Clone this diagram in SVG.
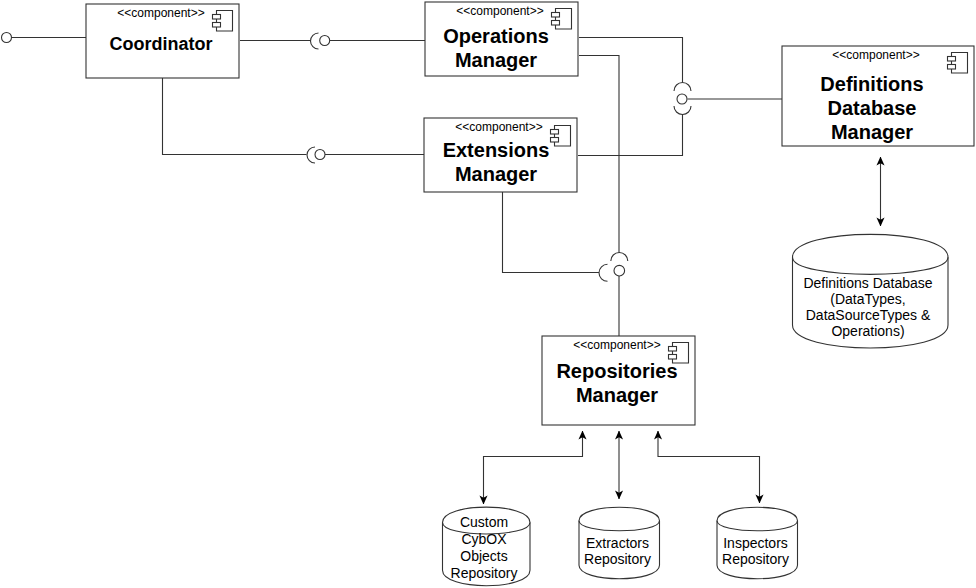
<svg xmlns="http://www.w3.org/2000/svg" width="976" height="588" viewBox="0 0 976 588">
<defs>
<style>
.b{fill:#fff;stroke:#333;stroke-width:1.1}
.l{fill:none;stroke:#333;stroke-width:1.1}
text{font-family:"Liberation Sans",Arial,sans-serif;fill:#000;text-anchor:middle}
.s{font-size:12px}
.t{font-size:20px;font-weight:bold}
.c{font-size:18px;font-weight:bold}
.d{font-size:14px}
</style>
<marker id="a" viewBox="0 0 8 8" refX="7.600" refY="4" markerWidth="9" markerHeight="9" orient="auto-start-reverse" markerUnits="userSpaceOnUse"><path d="M0 0.400L8 4L0 7.600L2 4Z" fill="#000"/></marker>
<g id="icon"><path class="b" d="M4.500 0.500H20.500V21H4.500Z"/><rect class="b" x="0.500" y="4.500" width="8" height="4.500"/><rect class="b" x="0.500" y="12.500" width="8" height="4.500"/></g>
</defs>
<rect width="976" height="588" fill="#fff"/>
<g id="connectors">
<path class="l" d="M11.500 37.500H86"/>
<path class="l" d="M240 40.500H310.500M330 40.500H425"/>
<path class="l" d="M162.500 78V154.500H306.500M325 154.500H424"/>
<path class="l" d="M579 37.500H682.500V82.500M578 155.500H682.500V114M687.500 99H782"/>
<path class="l" d="M579 55.500H619V252.500M619 276V336"/>
<path class="l" d="M502.500 192V272.500H599"/>
<path class="l" d="M318.500 33A8 8 0 0 0 318.500 49"/>
<path class="l" d="M315 147A8 8 0 0 0 315 163"/>
<circle class="l" cx="6.500" cy="37.500" r="5"/>
<circle class="l" cx="324.700" cy="40.500" r="5"/>
<circle class="l" cx="320" cy="154.500" r="5"/>
<circle class="l" cx="682" cy="99" r="5"/>
<circle class="l" cx="619.300" cy="270.700" r="5.300"/>
<path class="l" d="M674 91A8.500 8.500 0 0 1 691 91"/>
<path class="l" d="M674 106A8.500 8.500 0 0 0 691 106"/>
<path class="l" d="M610.800 261A8.500 8.500 0 0 1 627.800 261"/>
<path class="l" d="M607.500 264.300A8.500 8.500 0 0 0 607.500 281.300"/>
<path class="l" d="M880.500 157V226" marker-start="url(#a)" marker-end="url(#a)"/>
<path class="l" d="M582.500 431V456.500H483.500V504" marker-start="url(#a)" marker-end="url(#a)"/>
<path class="l" d="M619 431V499" marker-start="url(#a)" marker-end="url(#a)"/>
<path class="l" d="M658 431V456.500H759.500V503" marker-start="url(#a)" marker-end="url(#a)"/>
</g>
<g id="coordinator"><rect class="b" x="86" y="4" width="153" height="74"/><text class="s" x="161" y="17">&lt;&lt;component&gt;&gt;</text><use href="#icon" x="212" y="10"/><text class="c" x="161" y="50">Coordinator</text></g>
<g id="operations-manager"><rect class="b" x="425" y="2" width="153" height="74"/><text class="s" x="500" y="15">&lt;&lt;component&gt;&gt;</text><use href="#icon" x="551" y="8"/><text class="t" x="496" y="43">Operations</text><text class="t" x="496" y="67">Manager</text></g>
<g id="extensions-manager"><rect class="b" x="424" y="118" width="153" height="74"/><text class="s" x="499" y="131">&lt;&lt;component&gt;&gt;</text><use href="#icon" x="550" y="125"/><text class="t" x="496" y="157">Extensions</text><text class="t" x="496" y="181">Manager</text></g>
<g id="definitions-manager"><rect class="b" x="782" y="46" width="192" height="100"/><text class="s" x="876" y="59">&lt;&lt;component&gt;&gt;</text><use href="#icon" x="947" y="52"/><text class="t" x="872" y="91">Definitions</text><text class="t" x="872" y="115">Database</text><text class="t" x="872" y="139">Manager</text></g>
<g id="repositories-manager"><rect class="b" x="542" y="336" width="153" height="89"/><text class="s" x="617" y="349">&lt;&lt;component&gt;&gt;</text><use href="#icon" x="668" y="342"/><text class="t" x="617" y="378">Repositories</text><text class="t" x="617" y="402">Manager</text></g>
<g id="definitions-database"><path class="b" d="M792.500 257.200C792.500 226.700 948 226.700 948 257.200V325.100C948 355.600 792.500 355.600 792.500 325.100Z"/><path class="l" d="M792.500 257.200C792.500 280.100 948 280.100 948 257.200"/><text class="d" x="868" y="288">Definitions Database</text><text class="d" x="868" y="304">(DataTypes,</text><text class="d" x="868" y="320">DataSourceTypes &amp;</text><text class="d" x="868" y="336">Operations)</text></g>
<g id="custom-repository"><path class="b" d="M442.500 522.400C442.500 502 530 502 530 522.400V570.300C530 590.800 442.500 590.800 442.500 570.300Z"/><path class="l" d="M442.500 522.400C442.500 537.800 530 537.800 530 522.400"/><text class="d" x="484" y="527">Custom</text><text class="d" x="484" y="544">CybOX</text><text class="d" x="484" y="561">Objects</text><text class="d" x="484" y="578">Repository</text></g>
<g id="extractors-repository"><path class="b" d="M579 520.700C579 502.800 659.500 502.800 659.500 520.700V565.300C659.500 583.200 579 583.200 579 565.300Z"/><path class="l" d="M579 520.700C579 534.100 659.500 534.100 659.500 520.700"/><text class="d" x="617.500" y="548">Extractors</text><text class="d" x="617.500" y="564">Repository</text></g>
<g id="inspectors-repository"><path class="b" d="M717 520.700C717 502.800 797.500 502.800 797.500 520.700V565.300C797.500 583.200 717 583.200 717 565.300Z"/><path class="l" d="M717 520.700C717 534.100 797.500 534.100 797.500 520.700"/><text class="d" x="755.500" y="548">Inspectors</text><text class="d" x="755.500" y="564">Repository</text></g>
</svg>
